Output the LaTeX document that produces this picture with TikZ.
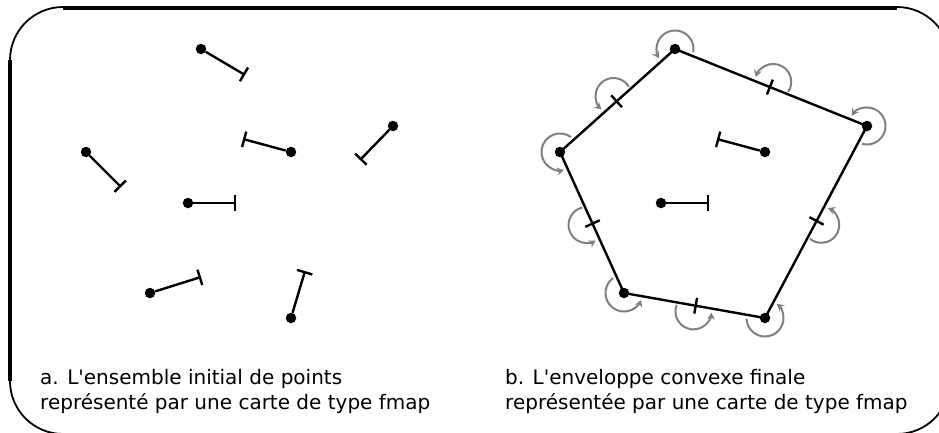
\documentclass[tikz,border=0pt]{standalone}
\usepackage{fontspec}
\newfontfamily\capfont{DejaVu Sans}
\usetikzlibrary{arrows.meta,calc}

\begin{document}
\begin{tikzpicture}[x=1pt,y=1pt,
  dot/.style={circle,fill=black,inner sep=0pt,minimum size=10.5pt},
  dart/.style={line width=2.4pt,-{Bar[width=16pt]}},
  halfedge/.style={line width=2.4pt},
  rot/.style={draw=gray,line width=2pt,-{Stealth[length=7pt,width=8pt,inset=2.5pt]}},
  frameline/.style={line width=4pt},
  framearc/.style={line width=1.8pt},
  caption/.style={anchor=base west,inner sep=0pt,font=\capfont\fontsize{20}{25}\selectfont}
]
\useasboundingbox (0,0) rectangle (939,-432);
\clip (0,0) rectangle (939,-432);

% ---- frame ----
\draw[frameline] (63,-7.5) -- (897,-7.5);
\draw[frameline] (10,-60) -- (10,-381);
\draw[framearc] (10,-60) arc[start angle=180,end angle=90,radius=53];
\draw[framearc] (897,-7) arc[start angle=90,end angle=0,radius=53];
\draw[framearc] (10,-381) arc[start angle=180,end angle=270,radius=53];
\draw[framearc] (950,-381) arc[start angle=0,end angle=-90,radius=53];

% ---- (a) initial point set: one dart per point ----
\node[dot] (a1) at (201,-49) {};
\node[dot] (a2) at (291,-152) {};
\node[dot] (a3) at (393,-126) {};
\node[dot] (a4) at (86,-152) {};
\node[dot] (a5) at (188,-203) {};
\node[dot] (a6) at (150,-293) {};
\node[dot] (a7) at (291,-318) {};
\coordinate (a1t) at (245,-75);
\coordinate (a2t) at (243,-139);
\coordinate (a3t) at (360,-160);
\coordinate (a4t) at (121,-187);
\coordinate (a5t) at (236,-203);
\coordinate (a6t) at (201,-277);
\coordinate (a7t) at (305,-271);
\foreach \i in {1,...,7} \draw[dart] (a\i) -- (a\i t);

% ---- (b) convex hull ----
\coordinate (A) at (675,-49);
\coordinate (B) at (867,-126);
\coordinate (C) at (765,-318);
\coordinate (D) at (624,-293);
\coordinate (E) at (560,-152);
\coordinate (mEA) at ($(E)!0.5!(A)$);
\coordinate (mAB) at ($(A)!0.5!(B)$);
\coordinate (mBC) at ($(B)!0.5!(C)$);
\coordinate (mCD) at ($(C)!0.5!(D)$);
\coordinate (mDE) at ($(D)!0.5!(E)$);

% hull edges: two darts meeting at the midpoint, one shared bar
\foreach \p/\q in {E/A,A/B,B/C,C/D,D/E}{
  \draw[dart] (\p) -- (m\p\q);
  \draw[halfedge] (\q) -- (m\p\q);
}

% interior points
\node[dot] (b2) at (765,-152) {};
\node[dot] (b5) at (661,-203) {};
\coordinate (b2t) at (717,-139);
\coordinate (b5t) at (709,-203);
\draw[dart] (b2) -- (b2t);
\draw[dart] (b5) -- (b5t);

% hull vertices
\foreach \v in {A,B,C,D,E} \node[dot] (n\v) at (\v) {};

% rotations around each vertex
\foreach \v/\s/\e in {A/-10/210,B/-106/146,C/182/410,D/126/338,E/54/282}
  \draw[rot] ([shift={(\s:18.5)}]\v) arc[start angle=\s,end angle=\e,radius=18.5];

% rotations around each edge midpoint (centre pushed outwards)
\foreach \p/\q/\t in {E/A/41.85,A/B/-21.85,B/C/-117.98,C/D/169.95,D/E/114.41}{
  \coordinate (c\p\q) at ($(m\p\q)!6pt!90:(\q)$);
  \draw[rot] ([shift={(\t-11:18)}]c\p\q) arc[start angle=\t-11,end angle=\t+186,radius=18];
}

% ---- captions ----
\node[caption] (capa1) at (40,-384) {a. L'ensemble initial de points};
\node[caption] (capa2) at (40,-409.5) {représenté par une carte de type fmap};
\node[caption] (capb1) at (505,-384) {b. L'enveloppe convexe finale};
\node[caption] (capb2) at (505,-409.5) {représentée par une carte de type fmap};
\end{tikzpicture}
\end{document}
